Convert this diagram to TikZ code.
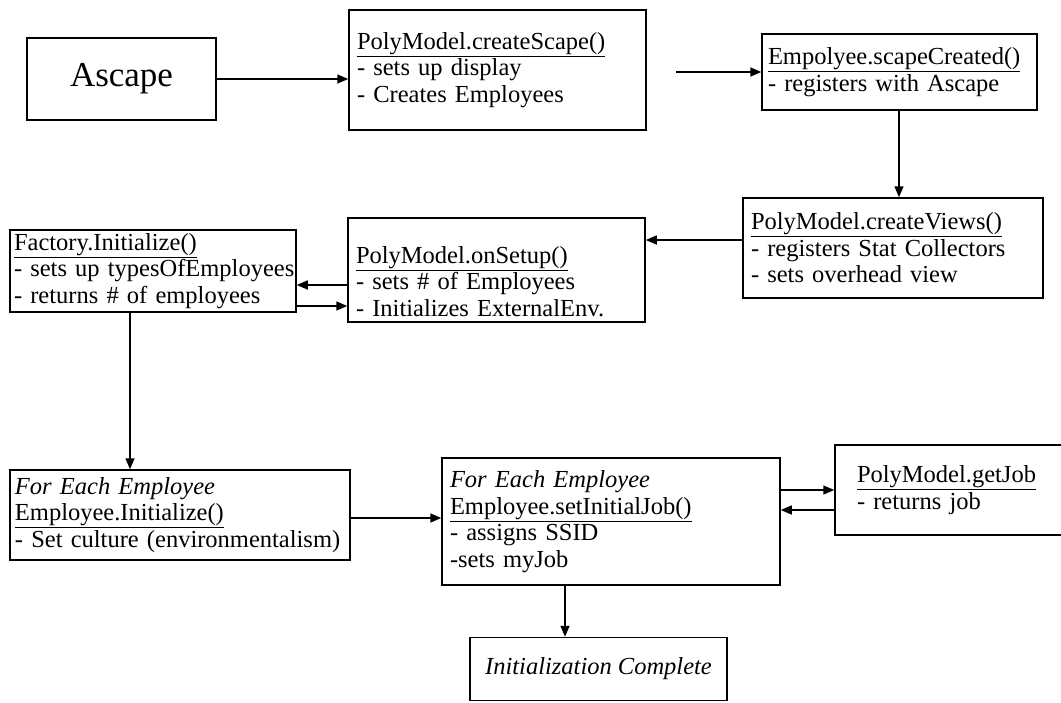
\documentclass[tikz,border=0pt]{standalone}
\usepackage{fontspec}
\setmainfont{Liberation Serif}
\usetikzlibrary{arrows.meta}

\begin{document}
\begin{tikzpicture}[x=1pt,y=-1pt]
		\tikzstyle{every node}+=[font=\fontsize{24.5}{26.5}\selectfont, execute at begin node={\hyphenpenalty=10000\exhyphenpenalty=10000}]
		\tikzstyle{box}=[draw, line width=1.5pt, inner xsep=8pt, inner ysep=0pt, align=left]
		\tikzstyle{arr}=[line width=1.5pt, -{Triangle[length=11pt,width=9pt]}]
		\useasboundingbox (0,0) rectangle (1061,702);
		% top row
		\node [box, minimum width=189pt, minimum height=82pt, align=center, font=\fontsize{35}{36}\selectfont] (ascape) at (121.5,79) {Ascape};
		\node [box, text width=281pt, minimum height=120pt] (scape) at (497.5,70) {\underline{PolyModel.createScape()}\\- sets up display\\- Creates Employees};
		\node [box, inner xsep=6pt, text width=263pt, minimum height=76pt] (created) at (899.5,72) {\underline{Empolyee.scapeCreated()}\\- registers with Ascape};
		% middle row
		\node [box, text width=284pt, minimum height=100pt] (views) at (893,248) {\underline{PolyModel.createViews()}\\- registers Stat Collectors\\- sets overhead view};
		\node [box, text width=281pt, minimum height=104pt] (setup) at (496.5,270) {\rule{0pt}{40pt}\underline{PolyModel.onSetup()}\\- sets \# of Employees\\- Initializes ExternalEnv.};
		\node [box, inner xsep=4pt, text width=278pt, minimum height=82pt] (factory) at (153,271) {\underline{Factory.Initialize()}\\\mbox{- sets up typesOfEmployees}\\- returns \# of employees};
		% bottom row
		\node [box, inner xsep=5pt, text width=330pt, minimum height=90pt] (init) at (180,515) {\textit{For Each Employee}\\\underline{Employee.Initialize()}\\- Set culture (environmentalism)};
		\node [box, text width=322pt, minimum height=127pt] (job) at (611,521.5) {\textit{For Each Employee}\\\underline{Employee.setInitialJob()}\\- assigns SSID\\-sets myJob};
		\node [box, inner xsep=22pt, text width=201pt, minimum height=90pt] (getjob) at (957.5,490) {\underline{PolyModel.getJob}\\- returns job};
		\node [box, minimum width=257pt, minimum height=63pt, align=center] (done) at (598.5,669) {\textit{Initialization Complete}};
		% connectors
		\coordinate (gap) at (676,72);
		\draw [arr] (ascape.east) -- (ascape.east -| scape.west);
		\draw [arr] (gap) -- (created.west);
		\draw [arr] (created.south -| 899,0) -- (views.north -| 899,0);
		\draw [arr] (views.west |- 0,240) -- (setup.east |- 0,240);
		\draw [arr] (setup.west |- 0,285) -- (factory.east |- 0,285);
		\draw [arr] (factory.east |- 0,306) -- (setup.west |- 0,306);
		\draw [arr] (factory.south -| 130,0) -- (init.north -| 130,0);
		\draw [arr] (init.east |- 0,518) -- (job.west |- 0,518);
		\draw [arr] (job.east |- 0,490) -- (getjob.west |- 0,490);
		\draw [arr] (getjob.west |- 0,510) -- (job.east |- 0,510);
		\draw [arr] (job.south -| 565,0) -- (done.north -| 565,0);
	\end{tikzpicture}
\end{document}
